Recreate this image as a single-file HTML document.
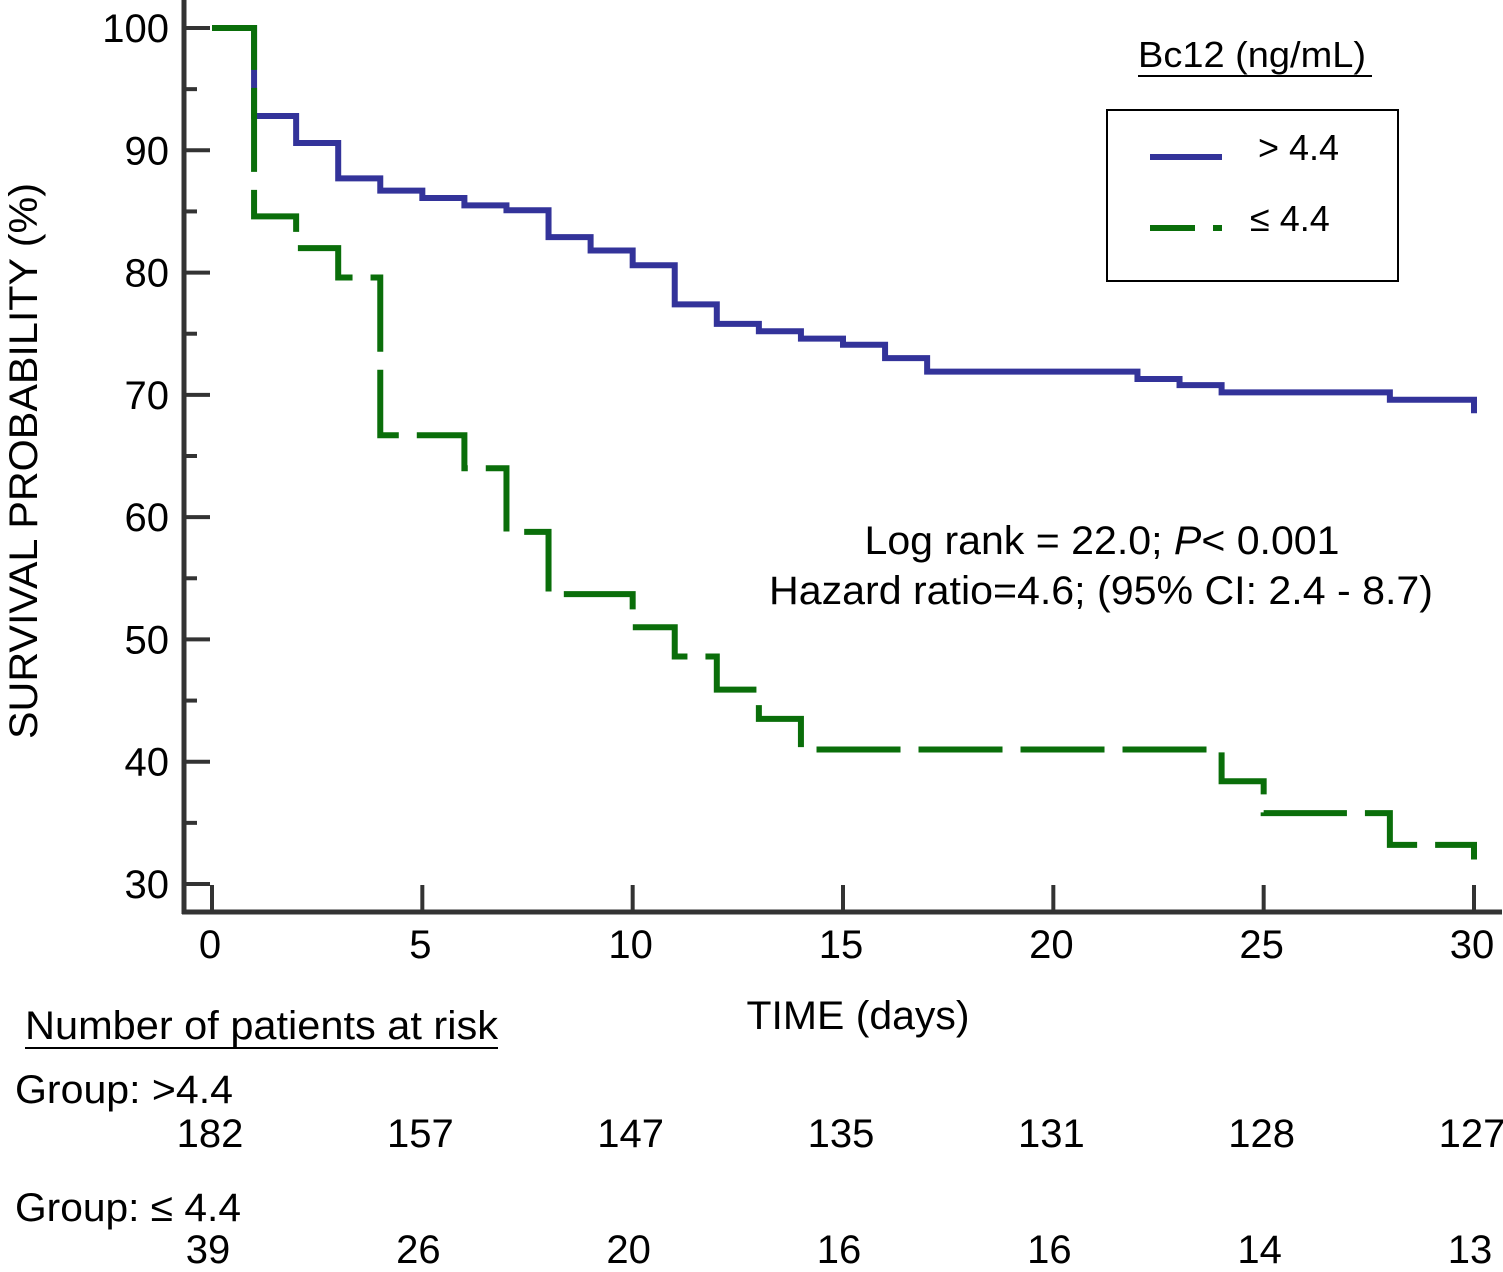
<!DOCTYPE html>
<html><head><meta charset="utf-8"><style>
html,body{margin:0;padding:0;background:#fff;}
svg{display:block;font-family:"Liberation Sans",Arial,sans-serif;}
</style></head><body>
<svg id="chart" width="1503" height="1272" viewBox="0 0 1503 1272">
<g id="axes"></g>
<g id="series"></g>
<text x="0" y="0" transform="translate(37,461) rotate(-90)" text-anchor="middle" font-size="40" textLength="556" lengthAdjust="spacingAndGlyphs">SURVIVAL PROBABILITY (%)</text>
<text x="858" y="1029" text-anchor="middle" font-size="40" textLength="223" lengthAdjust="spacingAndGlyphs">TIME (days)</text>
<text x="1102" y="554" text-anchor="middle" font-size="40" textLength="475" lengthAdjust="spacingAndGlyphs">Log rank = 22.0; <tspan font-style="italic">P</tspan>&lt; 0.001</text>
<text x="1101" y="604" text-anchor="middle" font-size="40" textLength="664" lengthAdjust="spacingAndGlyphs">Hazard ratio=4.6; (95% CI: 2.4 - 8.7)</text>
<g>
<text x="1252" y="67" text-anchor="middle" font-size="36" textLength="228" lengthAdjust="spacingAndGlyphs">Bc12 (ng/mL)</text>
<line x1="1138" y1="76" x2="1372" y2="76" stroke="#000" stroke-width="2"/>
<rect x="1107" y="110" width="291" height="171" fill="none" stroke="#000" stroke-width="2"/>
<line x1="1150" y1="157" x2="1222" y2="157" stroke="#33339a" stroke-width="6"/>
<text x="1258" y="160" font-size="36">&gt; 4.4</text>
<line x1="1150" y1="228" x2="1222" y2="228" stroke="#0a6e0a" stroke-width="6" stroke-dasharray="45,18"/>
<text x="1250" y="231" font-size="36">≤ 4.4</text>
</g>
<g font-size="40">
<text x="25" y="1039" font-size="40" textLength="473" lengthAdjust="spacingAndGlyphs">Number of patients at risk</text>
<line x1="25" y1="1048" x2="498" y2="1048" stroke="#000" stroke-width="2"/>
<text x="15" y="1103" textLength="218" lengthAdjust="spacingAndGlyphs">Group: &gt;4.4</text>
<text x="15" y="1221" textLength="226" lengthAdjust="spacingAndGlyphs">Group: ≤ 4.4</text>
<g id="risk"></g>
</g>
</svg>
<script>
const blueTimes=[0,1,2,3,4,5,6,7,8,9,10,11,12,13,14,15,16,17,22,23,24,28,30];
const blueValues=[100,92.8,90.6,87.7,86.7,86.1,85.5,85.1,82.9,81.8,80.6,77.4,75.8,75.2,74.6,74.1,73.0,71.9,71.3,70.8,70.2,69.6,68.5];
const greenTimes=[0,1,2,3,4,6,7,8,10,11,12,13,14,24,25,28,30];
const greenValues=[100,84.6,82.0,79.6,66.7,64.0,58.8,53.7,51.0,48.6,45.9,43.5,41.0,38.4,35.8,33.2,32.0];
const xTicks=[0,5,10,15,20,25,30];
const yTicks=[30,40,50,60,70,80,90,100];
const riskHigh=[182,157,147,135,131,128,127];
const riskLow=[39,26,20,16,16,14,13];
const NS="http://www.w3.org/2000/svg";
const X=t=>212+t*(1474-212)/30;
const Y=v=>28+(100-v)*(884-28)/70;
function mk(tag,attrs,parent){const e=document.createElementNS(NS,tag);for(const k in attrs)e.setAttribute(k,attrs[k]);parent.appendChild(e);return e;}
const axes=document.getElementById('axes');
let e=mk('line',{x1:184,y1:0,x2:184,y2:914,stroke:'#333',"stroke-width":5},axes);


e=mk('line',{x1:182,y1:912,x2:1502,y2:912,stroke:'#333',"stroke-width":5},axes);


yTicks.forEach(v=>{
 let t=mk('line',{x1:184,y1:Y(v),x2:210,y2:Y(v),stroke:'#333',"stroke-width":4},axes);
 
 
 if(v<100){let m=mk('line',{x1:184,y1:Y(v+5),x2:197,y2:Y(v+5),stroke:'#333',"stroke-width":4},axes);
 
 }
 let l=mk('text',{x:169,y:Y(v)+14,"text-anchor":"end","font-size":40},axes);l.textContent=v;
 
 
});
xTicks.forEach(v=>{
 let t=mk('line',{x1:X(v),y1:912,x2:X(v),y2:885,stroke:'#333',"stroke-width":4},axes);
 
 
 let l=mk('text',{x:X(v)-2,y:958,"text-anchor":"middle","font-size":40},axes);l.textContent=v;
 
 
});
function stepPath(ts,vs){let d='M'+X(ts[0])+','+Y(vs[0]);for(let i=1;i<ts.length;i++){d+=' H'+X(ts[i])+' V'+Y(vs[i]);}return d;}
const series=document.getElementById('series');
let b=mk('path',{d:stepPath(blueTimes,blueValues),fill:'none',stroke:'#33339a',"stroke-width":6},series);


let g=mk('path',{d:stepPath(greenTimes,greenValues),fill:'none',stroke:'#0a6e0a',"stroke-width":6,"stroke-dasharray":"84,18"},series);


const risk=document.getElementById('risk');
xTicks.forEach((t,i)=>{
 let a=mk('text',{x:X(t)-2,y:1147,"text-anchor":"middle","font-size":40},risk);a.textContent=riskHigh[i];
 
 
 let c=mk('text',{x:X(t)-4,y:1263,"text-anchor":"middle","font-size":40},risk);c.textContent=riskLow[i];
 
 
});
</script>
</body></html>
